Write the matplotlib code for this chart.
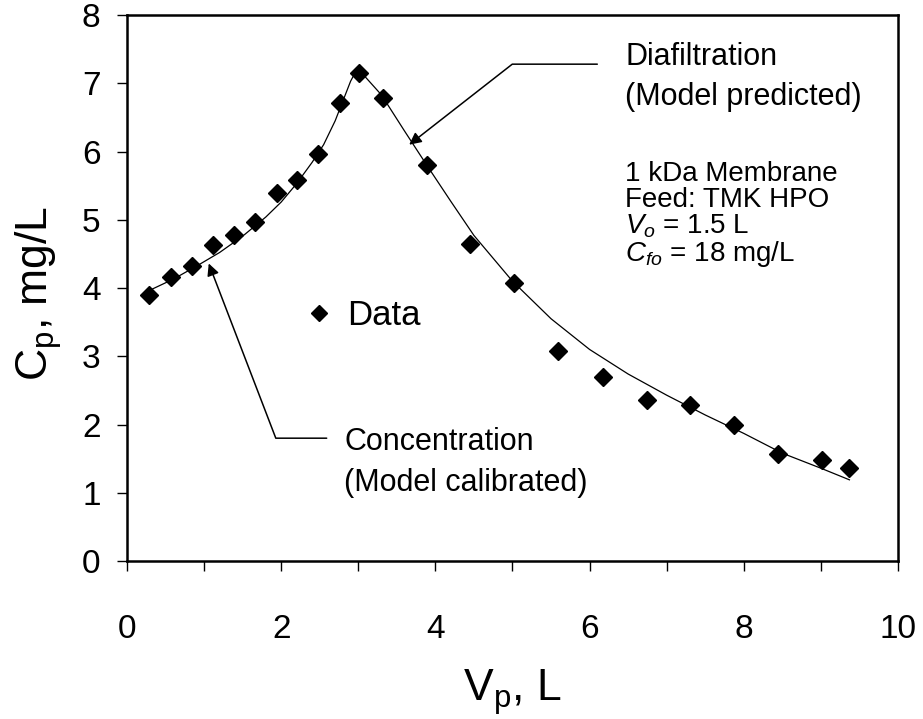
import matplotlib
matplotlib.use('Agg')
import matplotlib.pyplot as plt
from matplotlib.ticker import MultipleLocator

plt.rcParams['font.family'] = 'Liberation Sans'
plt.rcParams['mathtext.fontset'] = 'custom'
plt.rcParams['mathtext.rm'] = 'Liberation Sans'
plt.rcParams['mathtext.it'] = 'Liberation Sans:italic'

# measured permeate concentration
vp_data = [0.29, 0.57, 0.84, 1.12, 1.39, 1.66, 1.94, 2.21, 2.48, 2.76, 3.01, 3.32,
           3.89, 4.45, 5.02, 5.59, 6.17, 6.74, 7.30, 7.87, 8.44, 9.01, 9.37]
cp_data = [3.90, 4.16, 4.33, 4.63, 4.78, 4.97, 5.39, 5.59, 5.97, 6.71, 7.15, 6.78,
           5.80, 4.64, 4.07, 3.08, 2.69, 2.36, 2.29, 2.00, 1.57, 1.48, 1.36]

# model curve (concentration then diafiltration)
vp_model = [0.3, 0.6, 0.9, 1.2, 1.5, 1.8, 2.0, 2.2, 2.4, 2.55, 2.7, 2.8, 2.9, 2.99,
            3.3, 3.6, 3.9, 4.2, 4.5, 5.0, 5.5, 6.0, 6.5, 7.0, 7.5, 8.0, 8.5, 9.0, 9.37]
cp_model = [3.97, 4.13, 4.32, 4.52, 4.76, 5.04, 5.26, 5.53, 5.84, 6.10, 6.45, 6.74, 7.03, 7.22,
            6.83, 6.30, 5.78, 5.27, 4.77, 4.10, 3.55, 3.10, 2.74, 2.43, 2.14, 1.87, 1.58, 1.36, 1.19]

fig = plt.figure(figsize=(9.23, 7.19), dpi=100)
ax = fig.add_axes([0.1376, 0.2197, 0.8353, 0.7594])

ax.plot(vp_model, cp_model, color='black', lw=0.9)
pts, = ax.plot(vp_data, cp_data, ls='none', marker='D', ms=9, color='black', label='Data')

ax.set_xlim(0, 10)
ax.set_ylim(0, 8)
ax.xaxis.set_major_locator(MultipleLocator(2))
ax.xaxis.set_minor_locator(MultipleLocator(1))
ax.yaxis.set_major_locator(MultipleLocator(1))
ax.tick_params(axis='both', which='both', direction='out', length=7, width=1)
ax.tick_params(axis='x', which='major', labelsize=24, pad=31)
ax.tick_params(axis='y', which='major', labelsize=24, pad=12)
for s in ax.spines.values():
    s.set_linewidth(1.8)

ax.set_xlabel(r'V$_\mathregular{p}$, L', fontsize=32)
ax.xaxis.set_label_coords(0.5, -0.195)
ax.set_ylabel(r'C$_\mathregular{p}$, mg/L', fontsize=32)
ax.yaxis.set_label_coords(-0.082, 0.49)

ax.legend(handles=[pts], loc='center left', bbox_to_anchor=(0.235, 0.449),
          frameon=False, fontsize=25, handlelength=0.6, handletextpad=0.52,
          borderpad=0, borderaxespad=0, numpoints=1, markerscale=0.9)

# arrows
ax.annotate('', xy=(3.66, 6.10), xytext=(6.10, 7.28),
            arrowprops=dict(arrowstyle='-|>', color='black', lw=1.1,
                            connectionstyle='angle,angleA=0,angleB=38,rad=0',
                            shrinkA=0, shrinkB=0, mutation_scale=18))
ax.annotate('', xy=(1.06, 4.36), xytext=(2.59, 1.80),
            arrowprops=dict(arrowstyle='-|>', color='black', lw=1.1,
                            connectionstyle='angle,angleA=0,angleB=-69,rad=0',
                            shrinkA=0, shrinkB=0, mutation_scale=18))

ax.text(6.46, 7.61, 'Diafiltration\n(Model predicted)', fontsize=22,
        va='top', ha='left', linespacing=1.45)
ax.text(2.82, 1.96, 'Concentration\n(Model calibrated)', fontsize=22,
        va='top', ha='left', linespacing=1.45)
ax.text(6.46, 5.86, '1 kDa Membrane\nFeed: TMK HPO\n$V_o$ = 1.5 L\n$C_{fo}$ = 18 mg/L',
        fontsize=20, va='top', ha='left', linespacing=0.98)

fig.savefig('out.png', dpi=100)
